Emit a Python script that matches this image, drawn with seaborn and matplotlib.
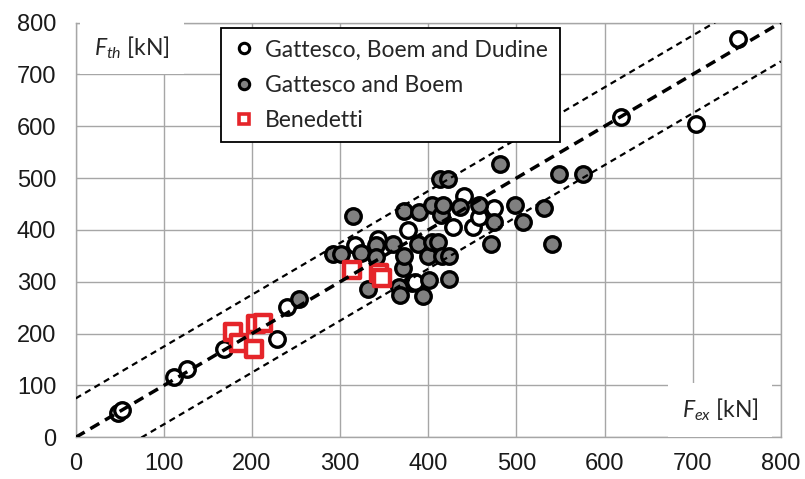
import numpy as np
import pandas as pd
import matplotlib
matplotlib.use("Agg")
import matplotlib.pyplot as plt
from matplotlib.lines import Line2D
import seaborn as sns

# ---------------------------------------------------
# DATA (kN)
# ---------------------------------------------------

gbd_fex = [48, 52, 112, 126, 168, 228, 240, 317, 343, 377,
           381, 385, 428, 441, 451, 458, 475, 619, 704, 751]
gbd_fth = [47, 52, 116, 132, 170, 190, 251, 371, 382, 399,
           297, 299, 405, 465, 405, 424, 442, 617, 605, 769]

gb_fex = [253, 292, 301, 315, 324, 332, 341, 341, 360, 367,
          368, 371, 373, 373, 388, 390, 394, 400, 401, 404,
          404, 411, 413, 415, 416, 417, 422, 423, 424, 436,
          458, 471, 475, 481, 498, 507, 531, 540, 548, 576]
gb_fth = [266, 353, 353, 426, 355, 286, 370, 348, 373, 290,
          274, 326, 350, 436, 373, 435, 272, 350, 304, 377,
          449, 377, 499, 428, 350, 449, 499, 350, 306, 444,
          449, 372, 415, 528, 449, 415, 442, 372, 508, 507]

ben_fex = [178, 185, 202, 205, 213, 313, 344, 347]
ben_fth = [204, 181, 171, 218, 221, 322, 316, 307]

series_names = ["Gattesco, Boem and Dudine", "Gattesco and Boem", "Benedetti"]

ref_x = np.array([0, 800])
band = 75

df = pd.concat([
    pd.DataFrame({"Fex": gbd_fex, "Fth": gbd_fth, "source": series_names[0]}),
    pd.DataFrame({"Fex": gb_fex, "Fth": gb_fth, "source": series_names[1]}),
    pd.DataFrame({"Fex": ben_fex, "Fth": ben_fth, "source": series_names[2]}),
])

# ---------------------------------------------------
# STYLE
# ---------------------------------------------------

sns.set_style("white")
plt.rcParams["font.family"] = ["Liberation Sans", "DejaVu Sans"]
plt.rcParams["mathtext.fontset"] = "custom"
plt.rcParams["mathtext.it"] = "Lato:italic"
plt.rcParams["mathtext.rm"] = "Lato"

grid_col = "#a6a6a6"
red = "#e5252a"

fig = plt.figure(figsize=(8.05, 4.79), dpi=100)
ax = fig.add_axes([0.094, 0.087, 0.876, 0.866])

# ---------------------------------------------------
# SCATTER
# ---------------------------------------------------

styles = {
    series_names[0]: dict(marker="o", color="white", edgecolor="black", s=125, linewidth=2.4),
    series_names[1]: dict(marker="o", color="#808080", edgecolor="black", s=125, linewidth=2.4),
    series_names[2]: dict(marker="s", color="white", edgecolor=red, s=130, linewidth=3.2),
}

for name in series_names:
    sns.scatterplot(
        data=df[df["source"] == name],
        x="Fex",
        y="Fth",
        ax=ax,
        zorder=3,
        legend=False,
        **styles[name]
    )

# ---------------------------------------------------
# REFERENCE LINES
# ---------------------------------------------------

ax.plot(ref_x, ref_x, color="black", lw=2.5, dashes=(3.0, 1.9), zorder=4)
ax.plot(ref_x, ref_x + band, color="black", lw=1.6, dashes=(2.8, 2.1), zorder=4)
ax.plot(ref_x, ref_x - band, color="black", lw=1.6, dashes=(2.8, 2.1), zorder=4)

# ---------------------------------------------------
# AXES
# ---------------------------------------------------

ax.set_xlim(0, 800)
ax.set_ylim(0, 800)
ax.set_xticks(np.arange(0, 801, 100))
ax.set_yticks(np.arange(0, 801, 100))
ax.grid(True, color=grid_col, lw=1.0)
ax.set_axisbelow(True)
ax.set_xlabel("")
ax.set_ylabel("")

for side in ax.spines:
    ax.spines[side].set_color(grid_col)
    ax.spines[side].set_linewidth(1.0)

ax.tick_params(axis="both", direction="out", length=5, width=1,
               color=grid_col, labelsize=17, labelcolor="#1a1a1a")
ax.tick_params(axis="x", pad=6)
ax.tick_params(axis="y", pad=9)

ax.text(64, 752, r"$F_{th}$ [kN]", fontsize=16.5, family="Lato",
        ha="center", va="center", zorder=5,
        bbox=dict(boxstyle="square,pad=0.6", facecolor="white", edgecolor="none"))
ax.text(731, 53, r"$F_{ex}$ [kN]", fontsize=16.5, family="Lato",
        ha="center", va="center", zorder=5,
        bbox=dict(boxstyle="square,pad=0.6", facecolor="white", edgecolor="none"))

# ---------------------------------------------------
# LEGEND
# ---------------------------------------------------

handles = [
    Line2D([], [], ls="none", marker="o", ms=7.5, mfc="white", mec="black", mew=2.2),
    Line2D([], [], ls="none", marker="o", ms=7.5, mfc="#808080", mec="black", mew=2.2),
    Line2D([], [], ls="none", marker="s", ms=7.5, mfc="white", mec=red, mew=2.6),
]

leg = ax.legend(
    handles,
    series_names,
    loc="upper left",
    bbox_to_anchor=(0.2056, 0.987),
    borderaxespad=0,
    prop={"family": "Lato", "size": 16.5},
    frameon=True,
    fancybox=False,
    framealpha=1,
    handlelength=1.0,
    handletextpad=0.45,
    labelspacing=0.62,
    borderpad=0.5,
)
leg.get_frame().set_edgecolor("black")
leg.get_frame().set_linewidth(1.3)
leg.set_zorder(6)

fig.savefig("out.png", dpi=100)
